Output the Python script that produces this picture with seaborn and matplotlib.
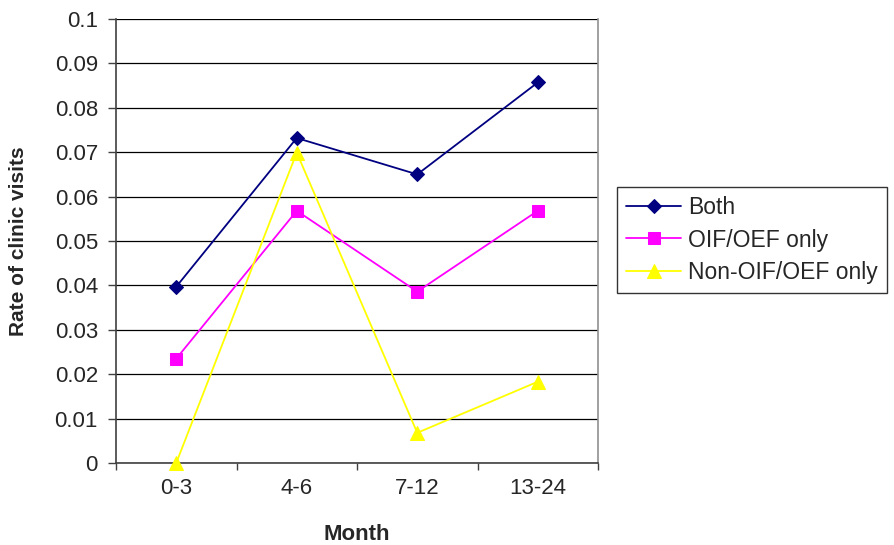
import matplotlib
matplotlib.use("Agg")
import matplotlib.pyplot as plt
import seaborn as sns
import pandas as pd
from matplotlib.ticker import FixedLocator

months = ["0-3", "4-6", "7-12", "13-24"]
both = [0.0397, 0.0732, 0.0650, 0.0857]
oif_oef_only = [0.0235, 0.0568, 0.0386, 0.0568]
non_oif_oef_only = [0.0, 0.0699, 0.0068, 0.0183]
series_names = ["Both", "OIF/OEF only", "Non-OIF/OEF only"]

df = pd.DataFrame({
    "Month": months * 3,
    "Rate": both + oif_oef_only + non_oif_oef_only,
    "Group": [s for s in series_names for _ in months],
})
df["pos"] = df["Month"].map({m: i for i, m in enumerate(months)})

sns.set_style("white")
plt.rcParams["font.family"] = ["Liberation Sans", "DejaVu Sans"]

fig = plt.figure(figsize=(8.94, 5.45), dpi=100)
ax = fig.add_axes([116 / 894, 1 - 463 / 545, (598 - 116) / 894, (463 - 19) / 545])

palette = {"Both": "#000080", "OIF/OEF only": "#FF00FF", "Non-OIF/OEF only": "#FFFF00"}
markers = {"Both": "D", "OIF/OEF only": "s", "Non-OIF/OEF only": "^"}
sizes = {"Both": 7, "OIF/OEF only": 8, "Non-OIF/OEF only": 9.5}

for name in series_names:
    sub = df[df["Group"] == name]
    sns.lineplot(data=sub, x="pos", y="Rate", ax=ax, color=palette[name],
                 marker=markers[name], markersize=sizes[name],
                 markeredgecolor=palette[name], linewidth=1.3, label=name,
                 clip_on=False, zorder=3)

ax.set_xlim(-0.5, 3.5)
ax.set_ylim(0, 0.1)
ax.set_yticks([i / 100 for i in range(11)])
ax.set_yticklabels(["0"] + [f"{i/100:g}" for i in range(1, 11)])
ax.set_xticks(range(len(months)))
ax.set_xticklabels(months)
ax.xaxis.set_minor_locator(FixedLocator([-0.5, 0.5, 1.5, 2.5, 3.5]))

ax.grid(axis="y", color="black", linewidth=0.9)
ax.set_axisbelow(True)

ax.spines["top"].set_visible(False)
ax.spines["left"].set_color("#404040")
ax.spines["bottom"].set_color("#404040")
ax.spines["right"].set_color("#909090")
for s in ["left", "bottom", "right"]:
    ax.spines[s].set_linewidth(1.2)

ax.tick_params(axis="y", which="major", direction="out", length=6, width=1,
               color="#404040", labelsize=16, pad=7, left=True)
ax.tick_params(axis="x", which="major", length=0, labelsize=16, pad=11)
ax.tick_params(axis="x", which="minor", direction="out", length=5, width=1,
               color="#404040", bottom=True)

ax.set_xlabel("Month", fontsize=16, fontweight="bold", labelpad=18)
ax.set_ylabel("Rate of clinic visits", fontsize=15, fontweight="bold", labelpad=19)

ax.get_legend().remove()
handles, labels = ax.get_legend_handles_labels()
leg = fig.legend(handles, labels, loc="center left",
                 bbox_to_anchor=(617 / 894, 1 - 240 / 545),
                 frameon=True, fancybox=False, fontsize=16.5,
                 handlelength=2.4, handletextpad=0.3, labelspacing=0.42,
                 borderpad=0.4, borderaxespad=0)
leg.get_frame().set_edgecolor("black")
leg.get_frame().set_linewidth(1.0)

fig.savefig("out.png", dpi=100)
